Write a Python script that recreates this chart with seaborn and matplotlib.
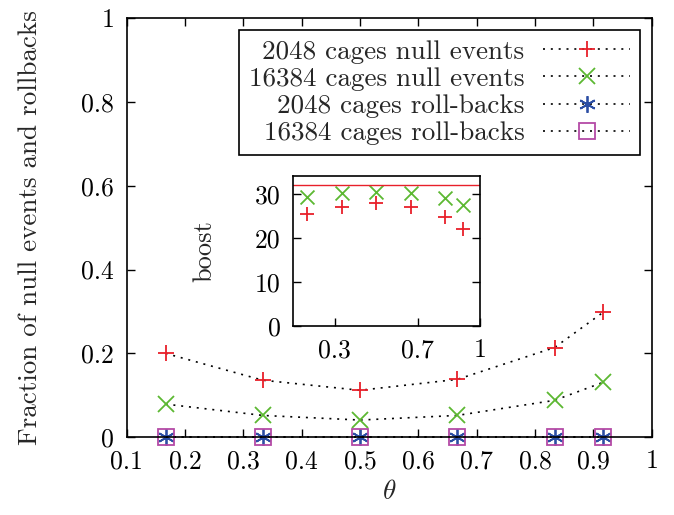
import numpy as np
import pandas as pd
import matplotlib
matplotlib.use("Agg")
import matplotlib.pyplot as plt
import seaborn as sns

# data
theta = [1/6, 1/3, 1/2, 2/3, 5/6, 11/12]
null_2048 = [0.200, 0.136, 0.112, 0.138, 0.214, 0.298]
null_16384 = [0.079, 0.052, 0.041, 0.052, 0.088, 0.131]
rb_2048 = [0, 0, 0, 0, 0, 0]
rb_16384 = [0, 0, 0, 0, 0, 0]

boost_2048 = [25.4, 27.1, 28.0, 27.1, 24.8, 22.1]
boost_16384 = [29.3, 30.1, 30.3, 30.1, 29.1, 27.4]
boost_max = 32

labels = ["2048 cages null events", "16384 cages null events",
          "2048 cages roll-backs", "16384 cages roll-backs"]

sns.set_theme(style="ticks")
plt.rcParams["font.family"] = ["cmr10", "DejaVu Serif"]
plt.rcParams["mathtext.fontset"] = "cm"
plt.rcParams["axes.formatter.use_mathtext"] = True
plt.rcParams["axes.unicode_minus"] = False

RED = "#e8202a"
GREEN = "#5cb832"
BLUE = "#2c4ea4"
MAGENTA = "#b44aa6"
FS = 18.5

fig = plt.figure(figsize=(6.74, 5.15), dpi=100)
ax = fig.add_axes([0.188, 0.151, 0.779, 0.814])

styles = [
    dict(marker="+", markersize=12, markeredgewidth=1.3, markeredgecolor=RED),
    dict(marker="x", markersize=11, markeredgewidth=1.3, markeredgecolor=GREEN),
    dict(marker=(6, 2, 0), markersize=12, markeredgewidth=1.3, markeredgecolor=BLUE),
    dict(marker="s", markersize=11, markeredgewidth=1.3, markeredgecolor=MAGENTA,
         markerfacecolor="none"),
]
series = [null_2048, null_16384, rb_2048, rb_16384]
for ys, lab, st in zip(series, labels, styles):
    sns.lineplot(x=theta, y=ys, ax=ax, color="black", linewidth=1.2,
                 dashes=False, label=lab, **st)
for line in ax.get_lines():
    line.set_dashes((1.2, 3.5))
    line.set_clip_on(False)

ax.set_xlim(0.1, 1)
ax.set_ylim(0, 1)
ax.set_xticks([0.1, 0.2, 0.3, 0.4, 0.5, 0.6, 0.7, 0.8, 0.9, 1])
ax.set_xticklabels(["0.1", "0.2", "0.3", "0.4", "0.5", "0.6", "0.7", "0.8", "0.9", "1"])
ax.set_yticks([0, 0.2, 0.4, 0.6, 0.8, 1])
ax.set_yticklabels(["0", "0.2", "0.4", "0.6", "0.8", "1"])
ax.tick_params(direction="in", top=True, right=True, length=6, width=1,
               labelsize=FS, pad=9, colors="black")
for sp in ax.spines.values():
    sp.set_linewidth(1.2)
    sp.set_color("black")
ax.set_xlabel(r"$\theta$", fontsize=FS + 1, labelpad=5)
ax.set_ylabel("Fraction of null events and rollbacks", fontsize=FS + 1, labelpad=28)

leg = ax.legend(loc="upper right", markerfirst=False, fontsize=FS + 1,
                frameon=True, fancybox=False, edgecolor="black",
                handlelength=3.2, handletextpad=0.7, labelspacing=0.12,
                borderpad=0.35, borderaxespad=0.45, framealpha=1)
leg.get_frame().set_linewidth(1.2)

# inset
ins = fig.add_axes([0.435, 0.367, 0.277, 0.291])
sns.scatterplot(x=theta, y=boost_2048, ax=ins, marker="+", s=110,
                color=RED, linewidth=1.3)
sns.scatterplot(x=theta, y=boost_16384, ax=ins, marker="x", s=100,
                color=GREEN, linewidth=1.3)
ins.axhline(boost_max, color=RED, linewidth=1)
ins.set_xlim(0.1, 1)
ins.set_ylim(0, 34)
ins.set_xticks([0.3, 0.7, 1])
ins.set_xticklabels(["0.3", "0.7", "1"])
ins.set_yticks([0, 10, 20, 30])
ins.set_yticklabels(["0", "10", "20", "30"])
ins.tick_params(direction="in", right=True, length=6, width=1,
                labelsize=FS, pad=9, colors="black")
for sp in ins.spines.values():
    sp.set_linewidth(1.2)
    sp.set_color("black")
ins.set_ylabel("boost", fontsize=FS + 0.5, labelpad=28)
ins.set_xlabel("")

fig.savefig("out.png", dpi=100)
